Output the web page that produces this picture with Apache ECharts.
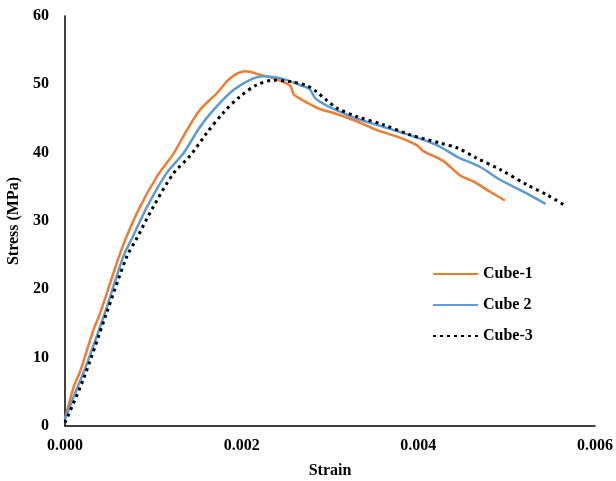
<!DOCTYPE html>
<html>
<head>
<meta charset="utf-8">
<script src="https://cdn.jsdelivr.net/npm/echarts@6/dist/echarts.min.js"></script>
<style>
  html, body { margin: 0; padding: 0; background: #fff; }
  #chart { width: 616px; height: 481px; }
</style>
</head>
<body>
<div id="chart"></div>
<script>
// values
const xTicks = [0, 0.002, 0.004, 0.006];
const yTicks = [0, 10, 20, 30, 40, 50, 60];

const cube1Strain = [0, 0.0001, 0.00017, 0.00032, 0.0004, 0.00059, 0.00068, 0.00085, 0.00104, 0.00123, 0.00138, 0.00153, 0.00172, 0.00187, 0.00204, 0.00221, 0.0024, 0.00255, 0.00259, 0.00266, 0.00277, 0.0029, 0.00304, 0.0033, 0.00353, 0.00379, 0.00398, 0.00406, 0.00428, 0.00447, 0.00462, 0.00481, 0.00498];
const cube1Stress = [1.0, 5.8, 7.9, 14.0, 16.6, 24.0, 27.2, 32.1, 36.5, 39.9, 43.3, 46.3, 48.7, 50.9, 51.9, 51.4, 50.7, 49.8, 48.5, 47.9, 47.1, 46.3, 45.8, 44.6, 43.3, 42.2, 41.1, 40.2, 38.8, 36.7, 35.8, 34.3, 33.0];

const cube2Strain = [0, 0.00012, 0.00023, 0.00045, 0.00066, 0.00076, 0.00093, 0.00115, 0.00134, 0.00153, 0.00172, 0.00191, 0.0021, 0.00225, 0.00247, 0.00266, 0.00277, 0.00283, 0.00292, 0.00304, 0.0033, 0.0036, 0.00394, 0.00421, 0.00444, 0.0047, 0.00493, 0.00519, 0.00544];
const cube2Stress = [1.0, 5.0, 8.5, 16.5, 24.8, 27.5, 32.1, 37.0, 39.9, 43.8, 46.8, 49.2, 50.7, 51.2, 50.8, 49.9, 49.3, 48.0, 47.2, 46.4, 45.0, 43.8, 42.4, 41.1, 39.4, 37.9, 36.0, 34.3, 32.5];

const cube3Strain = [0, 0.00021, 0.00047, 0.0007, 0.00081, 0.001, 0.00123, 0.00142, 0.0016, 0.00179, 0.00198, 0.00217, 0.00236, 0.00255, 0.00274, 0.00285, 0.00296, 0.00308, 0.0033, 0.0036, 0.00391, 0.00425, 0.00444, 0.00466, 0.00493, 0.00523, 0.00546, 0.00568];
const cube3Stress = [0.5, 6.9, 16.5, 24.8, 27.4, 32.1, 37.0, 39.6, 42.8, 45.8, 48.2, 49.9, 50.6, 50.4, 49.8, 48.9, 47.7, 46.5, 45.3, 44.1, 42.6, 41.4, 40.7, 39.2, 37.5, 35.3, 33.8, 32.1];

const zip = (xs, ys) => xs.map((x, i) => [x, ys[i]]);

const font = 'Liberation Serif';
const chart = echarts.init(document.getElementById('chart'));

chart.setOption({
  animation: false,
  backgroundColor: '#fff',
  grid: { left: 65, right: 21, top: 16, bottom: 55, containLabel: false, outerBoundsMode: 'none' },
  legend: {
    orient: 'vertical',
    left: 427,
    top: 261,
    itemWidth: 45,
    itemHeight: 14,
    itemGap: 15,
    itemStyle: { opacity: 0 },
    textStyle: { fontFamily: font, fontWeight: 'bold', fontSize: 16, color: '#000', lineHeight: 16 },
    data: ['Cube-1', 'Cube 2', 'Cube-3']
  },
  xAxis: {
    type: 'value',
    min: xTicks[0],
    max: xTicks[xTicks.length - 1],
    interval: 0.002,
    name: 'Strain',
    nameLocation: 'middle',
    nameGap: 37,
    nameTextStyle: { fontFamily: font, fontWeight: 'bold', fontSize: 16, color: '#000' },
    axisLine: { lineStyle: { color: '#000', width: 1.5 } },
    axisTick: { show: false },
    splitLine: { show: false },
    axisLabel: {
      fontFamily: font, fontWeight: 'bold', fontSize: 16, color: '#000', margin: 12,
      formatter: v => v.toFixed(3)
    }
  },
  yAxis: {
    type: 'value',
    min: yTicks[0],
    max: yTicks[yTicks.length - 1],
    interval: 10,
    name: 'Stress (MPa)',
    nameLocation: 'middle',
    nameGap: 36,
    nameTextStyle: { fontFamily: font, fontWeight: 'bold', fontSize: 16, color: '#000' },
    axisLine: { show: true, lineStyle: { color: '#000', width: 1.5 } },
    axisTick: { show: false },
    splitLine: { show: false },
    axisLabel: { fontFamily: font, fontWeight: 'bold', fontSize: 16, color: '#000', margin: 16 }
  },
  series: [
    {
      name: 'Cube-1', type: 'line', symbol: 'none', showSymbol: false, smooth: 0.3,
      data: zip(cube1Strain, cube1Stress),
      itemStyle: { color: '#ED7D31' },
      lineStyle: { color: '#ED7D31', width: 2.5 }
    },
    {
      name: 'Cube 2', type: 'line', symbol: 'none', showSymbol: false, smooth: 0.3,
      data: zip(cube2Strain, cube2Stress),
      itemStyle: { color: '#5B9BD5' },
      lineStyle: { color: '#5B9BD5', width: 2.5 }
    },
    {
      name: 'Cube-3', type: 'line', symbol: 'none', showSymbol: false, smooth: 0.3,
      data: zip(cube3Strain, cube3Stress),
      itemStyle: { color: '#000' },
      lineStyle: { color: '#000', width: 3, type: [3, 4] }
    }
  ]
});
</script>
</body>
</html>
